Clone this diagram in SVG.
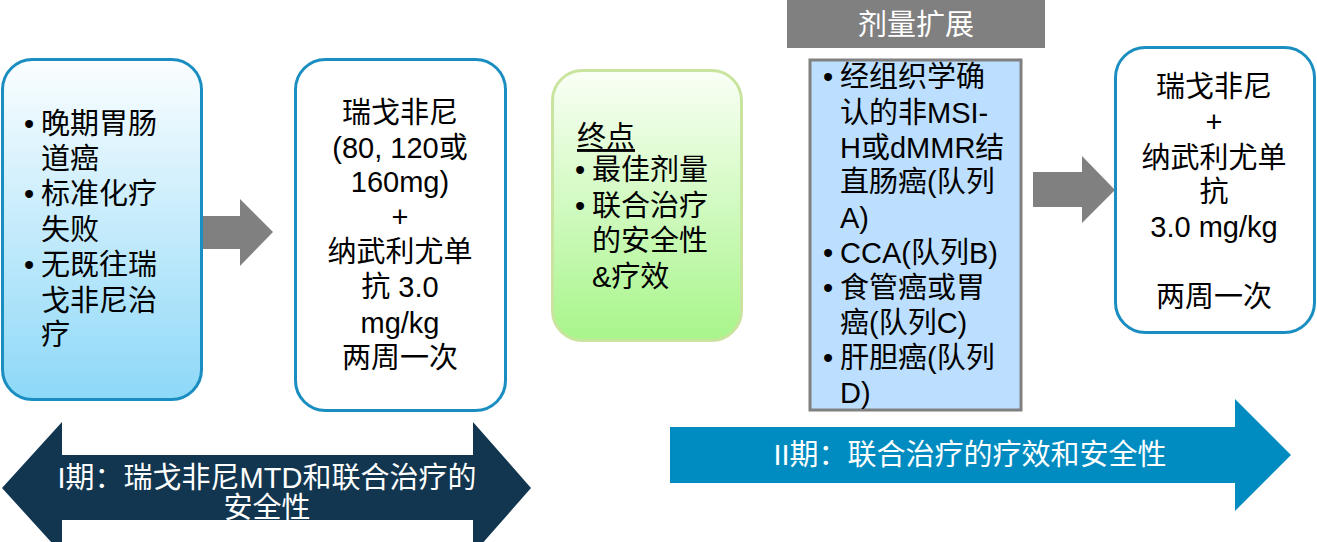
<svg xmlns="http://www.w3.org/2000/svg" width="1317" height="542" viewBox="0 0 1317 542">
<defs>
<linearGradient id="gBlue" x1="0" y1="0" x2="0" y2="1">
<stop offset="0" stop-color="#FBFEFF"/>
<stop offset="1" stop-color="#8DD8F8"/>
</linearGradient>
<linearGradient id="gGreen" x1="0" y1="0" x2="0" y2="1">
<stop offset="0" stop-color="#FAFFF6"/>
<stop offset="1" stop-color="#A8F58A"/>
</linearGradient>
<style>
text{font-family:"Liberation Sans","Noto Sans CJK SC",sans-serif;font-size:29px;fill:#000}
.c{text-anchor:middle}
.w{fill:#fff}
.box{stroke:#1A8EC0;stroke-width:3}
.garrow{fill:#808080}
</style>
</defs>
<g id="connectors">
<polygon class="garrow" points="202,216 240,216 240,199 273,232 240,266 240,249 202,249"/>
<polygon class="garrow" points="1033,172 1082,172 1082,156 1115,190 1082,223 1082,207 1033,207"/>
</g>
<g id="phase1-arrow">
<polygon fill="#12364F" points="2,488 62,422 62,455 473,455 473,422 531,488 473,554 473,520 62,520 62,554"/>
<text class="c w" x="267" y="488" font-size="28">I期：瑞戈非尼MTD和联合治疗的</text>
<text class="c w" x="267" y="518" font-size="28">安全性</text>
</g>
<g id="phase2-arrow">
<polygon fill="#008CC1" points="670,427 1235,427 1235,399 1291,455 1235,511 1235,483 670,483"/>
<text class="c w" x="970" y="465" font-size="28">II期：联合治疗的疗效和安全性</text>
</g>
<g id="patients">
<rect class="box" x="2.5" y="59.5" width="199" height="340" rx="30" fill="url(#gBlue)"/>
<text x="24" y="134">•</text><text x="41" y="134">晚期胃肠</text>
<text x="41" y="169">道癌</text>
<text x="24" y="204">•</text><text x="41" y="204">标准化疗</text>
<text x="41" y="240">失败</text>
<text x="24" y="275">•</text><text x="41" y="275">无既往瑞</text>
<text x="41" y="311">戈非尼治</text>
<text x="41" y="345">疗</text>
</g>
<g id="dose-escalation">
<rect class="box" x="295.5" y="59.5" width="210" height="351" rx="30" fill="#fff"/>
<text class="c" x="400" y="123">瑞戈非尼</text>
<text class="c" x="400" y="158">(80, 120或</text>
<text class="c" x="400" y="192">160mg)</text>
<text class="c" x="400" y="227">+</text>
<text class="c" x="400" y="262">纳武利尤单</text>
<text class="c" x="400" y="297">抗 3.0</text>
<text class="c" x="400" y="333">mg/kg</text>
<text class="c" x="400" y="368">两周一次</text>
</g>
<g id="endpoints">
<rect x="552.5" y="70.5" width="189" height="270" rx="30" fill="url(#gGreen)" stroke="#C9E49E" stroke-width="3"/>
<text x="577" y="147" text-decoration="underline">终点</text>
<text x="575" y="180">•</text><text x="592" y="180">最佳剂量</text>
<text x="575" y="216">•</text><text x="592" y="216">联合治疗</text>
<text x="592" y="251">的安全性</text>
<text x="592" y="287">&amp;疗效</text>
</g>
<g id="expansion-header">
<rect x="787" y="0" width="258" height="48" fill="#808080"/>
<text class="c w" x="916" y="35" font-size="26">剂量扩展</text>
</g>
<g id="cohorts">
<rect x="810" y="60" width="211" height="350" fill="#BDDFFF" stroke="#808080" stroke-width="3"/>
<text x="823" y="87">•</text><text x="840" y="87">经组织学确</text>
<text x="840" y="123">认的非MSI-</text>
<text x="840" y="158">H或dMMR结</text>
<text x="840" y="192">直肠癌(队列</text>
<text x="840" y="228">A)</text>
<text x="823" y="263">•</text><text x="840" y="263">CCA(队列B)</text>
<text x="823" y="298">•</text><text x="840" y="298">食管癌或胃</text>
<text x="840" y="333">癌(队列C)</text>
<text x="823" y="368">•</text><text x="840" y="368">肝胆癌(队列</text>
<text x="840" y="403">D)</text>
</g>
<g id="expansion-treatment">
<rect class="box" x="1115.5" y="47.5" width="199" height="285" rx="30" fill="#fff"/>
<text class="c" x="1214" y="97">瑞戈非尼</text>
<text class="c" x="1214" y="132">+</text>
<text class="c" x="1214" y="168">纳武利尤单</text>
<text class="c" x="1214" y="202">抗</text>
<text class="c" x="1214" y="237">3.0 mg/kg</text>
<text class="c" x="1214" y="307">两周一次</text>
</g>
</svg>
